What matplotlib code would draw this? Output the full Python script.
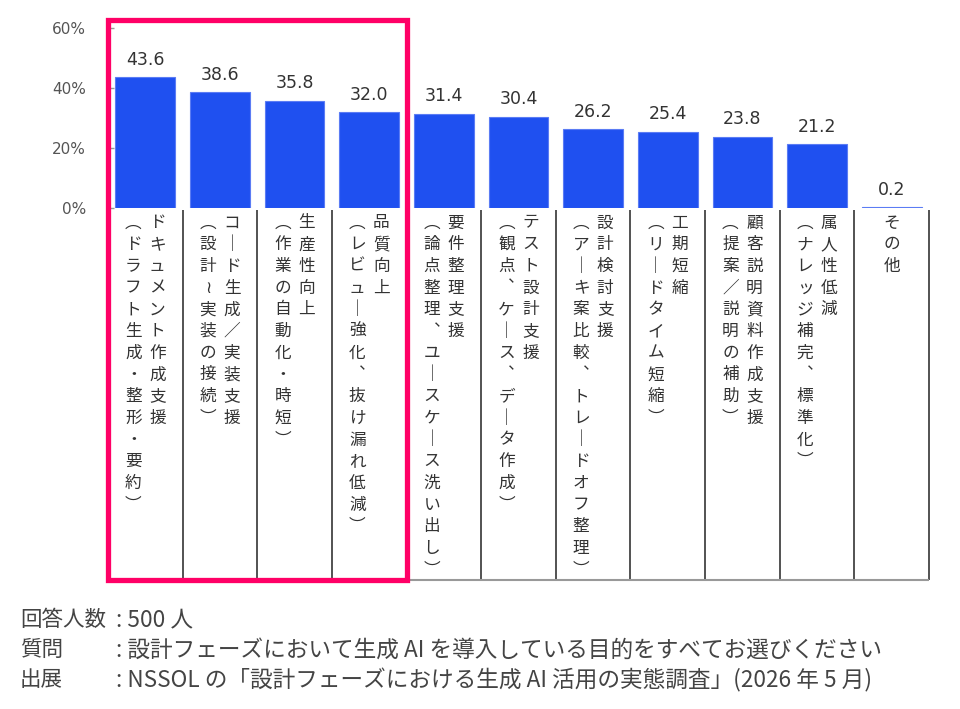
import matplotlib
matplotlib.use("Agg")
import matplotlib.pyplot as plt
from matplotlib.patches import Rectangle

plt.rcParams['font.family'] = ['Noto Sans CJK JP', 'DejaVu Sans']

# data
main_labels = ["ドキュメント作成支援", "コード生成／実装支援", "生産性向上", "品質向上",
               "要件整理支援", "テスト設計支援", "設計検討支援", "工期短縮",
               "顧客説明資料作成支援", "属人性低減", "その他"]
sub_labels = ["（ドラフト生成・整形・要約）", "（設計~実装の接続）", "（作業の自動化・時短）",
              "（レビュー強化、抜け漏れ低減）", "（論点整理、ユースケース洗い出し）",
              "（観点、ケース、データ作成）", "（アーキ案比較、トレードオフ整理）",
              "（リードタイム短縮）", "（提案／説明の補助）", "（ナレッジ補完、標準化）", ""]
values = [43.6, 38.6, 35.8, 32.0, 31.4, 30.4, 26.2, 25.4, 23.8, 21.2, 0.2]
yticks = [0, 20, 40, 60]
n_highlight = 4

footer_keys = ["回答人数", "質問", "出展"]
footer_vals = [": 500 人",
               ": 設計フェーズにおいて生成 AI を導入している目的をすべてお選びください",
               ": NSSOL の「設計フェーズにおける生成 AI 活用の実態調査」(2026 年 5 月)"]

# vertical-writing forms
vmap = {"（": "︵", "）": "︶", "ー": "｜", "、": "︑", "~": "≀"}

def vert_chars(s):
    return [vmap.get(c, c) for c in s]

fig = plt.figure(figsize=(9.6, 7.09), dpi=100)
W, H = 960, 709
# axes: x 108..929 px, y 0 at 208 px, 60 at 28 px
ax = fig.add_axes([108 / W, (H - 208) / H, (929 - 108) / W, 180 / H])

x = list(range(len(values)))
bars = ax.bar(x, values, width=0.8, color="#1f50f0", edgecolor="#5b7cf4", linewidth=0.8)

for xi, v in zip(x, values):
    ax.annotate(f"{v:.1f}", (xi, v), xytext=(0, 6), textcoords="offset points",
                ha="center", va="bottom", fontsize=12.5, color="#333333",
                family="DejaVu Sans")

ax.set_xlim(-0.5, len(values) - 0.5)
ax.set_ylim(0, 60)
ax.set_yticks(yticks)
ax.set_yticklabels([f"{t}%" for t in yticks], family="DejaVu Sans")
ax.tick_params(axis="y", direction="in", length=4, width=1, color="#999999",
               labelsize=11, labelcolor="#555555", pad=16)
ax.set_xticks([])
for s in ["top", "right", "bottom"]:
    ax.spines[s].set_visible(False)
ax.spines["left"].set_color("#bbbbbb")

# category columns below the axis
px = 180 / 60  # pixels per data unit
y_bottom = -(580 - 208) / px
ax.vlines([i - 0.5 for i in range(len(values) + 1)], y_bottom, -0.7,
          colors="#444444", linewidth=1.3, clip_on=False)
ax.hlines(y_bottom, -0.5, len(values) - 0.5, colors="#999999", linewidth=1.5, clip_on=False)

pitch = 21.7 * 72 / 100
first = 15 * 72 / 100
dx = 12 / 74.6
for i, (m, sub) in enumerate(zip(main_labels, sub_labels)):
    cols = [(i + dx, m), (i - dx, sub)] if sub else [(i, m)]
    for cx, txt in cols:
        for k, ch in enumerate(vert_chars(txt)):
            ax.annotate(ch, (cx, 0), xytext=(0, -(first + k * pitch)),
                        textcoords="offset points", ha="center", va="center",
                        fontsize=12, color="#333333", annotation_clip=False)

# highlight box around first categories
top = (208 - 20) / px
ax.add_patch(Rectangle((-0.5, y_bottom), n_highlight, top - y_bottom, fill=False,
                       edgecolor="#ff0066", linewidth=3.8, clip_on=False, zorder=5))

# footer notes
for j, (k, v) in enumerate(zip(footer_keys, footer_vals)):
    yy = 1 - (620 + 30 * j) / H
    fig.text(20 / W, yy, k, fontsize=15.5, color="#444444", va="center")
    fig.text(116 / W, yy, v, fontsize=16.3, color="#444444", va="center")

fig.savefig("out.png", dpi=100)
